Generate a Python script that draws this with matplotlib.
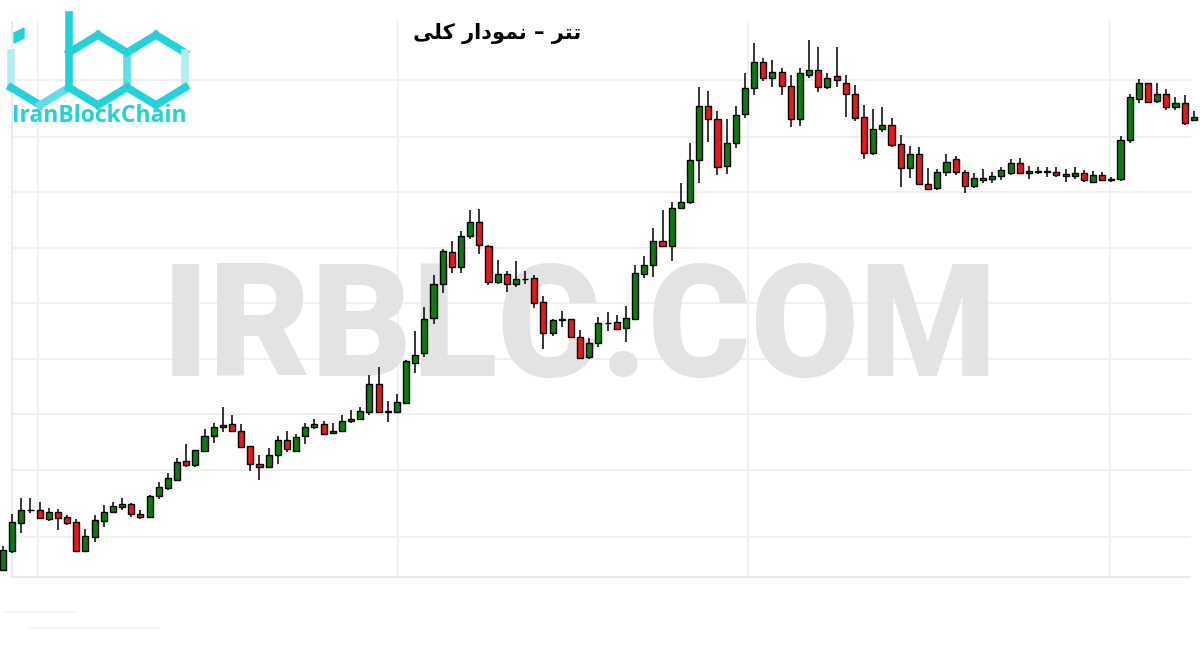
import matplotlib
matplotlib.use("Agg")
import matplotlib.pyplot as plt
from matplotlib.patches import Polygon

# ---------------- data (price units) ----------------
opens = [30, 49.3, 77.3, 89.6, 89.7, 81.3, 87.7, 82.7, 77.7, 49.3,
         63.3, 79.3, 87.7, 93.3, 95.7, 85.7, 83.3, 103.7, 111.7, 119.7,
         138.7, 134.7, 149.3, 163.7, 172.7, 175.7, 168.7, 153.7, 135.7, 132.7,
         145, 159.7, 149.3, 163.7, 172.7, 175.7, 166.7, 168.7, 178.7, 180.7,
         188.3, 215.7, 188.5, 188.3, 197.3, 236.7, 247.3, 281.7, 315.7, 347.7,
         332.7, 363.7, 377.7, 353.7, 317.7, 325.7, 315.7, 321.1, 321.7, 297.7,
         266.7, 280.5, 280.7, 263, 242.7, 256.7, 276.8, 277.7, 271.7, 281.3,
         326.3, 334.7, 358.7, 353.7, 391.7, 397.7, 439.7, 493.7, 480.7, 433.7,
         456.7, 485.7, 511.7, 537.7, 521.7, 527.7, 513.7, 480.7, 524.7, 529.7,
         512.7, 523.7, 516.7, 505.7, 482.7, 446.7, 470.7, 474.7, 455.7, 431.7,
         445.7, 415.7, 411.7, 427.7, 440.7, 427.7, 413.7, 421.7, 420.7, 423.7,
         426.7, 436.7, 426.7, 428.5, 428.5, 427.7, 425.7, 423.7, 426.7, 417.7,
         424.7, 420.5, 420.7, 459.7, 500.7, 516.7, 498.7, 505.7, 492.7, 496.7,
         480.3]
highs = [54, 86, 102, 102, 98, 92, 91, 85, 80.7, 70.7,
         85, 94.7, 98, 101.7, 97, 89.7, 105, 118, 127, 142,
         156, 149.7, 171, 176.7, 193, 184.7, 176, 153.7, 145, 151.7,
         163.7, 168.7, 165.7, 176.7, 180.7, 178.7, 176.7, 184.7, 189.7, 192.7,
         225, 233.3, 199, 206, 240, 269, 293, 324.7, 350.7, 359,
         368.7, 389.7, 390.7, 354.7, 339.7, 328.7, 338.7, 328.7, 324.7, 303.7,
         280.7, 288.7, 280.7, 269.7, 261.7, 282.7, 287.7, 284.7, 293.7, 335,
         343.7, 372, 390, 397.7, 416.7, 456.7, 512.7, 508.7, 488.7, 480.7,
         493.7, 526.7, 556.7, 541.7, 539.7, 531.7, 524.7, 531.7, 559.7, 552.7,
         526.7, 552.7, 524.7, 514.7, 494.7, 490.7, 492.7, 481.7, 464.7, 453.7,
         452.7, 431.7, 430.7, 445.7, 443.7, 429.7, 426.7, 430.7, 427.7, 432.7,
         440.7, 441.7, 433.7, 432.7, 432.7, 432.7, 430.7, 432.7, 429.7, 428.7,
         427.7, 422.7, 463.7, 505.7, 520.7, 517, 516.7, 510.7, 502.7, 504.7,
         488.7]
lows = [29, 47.3, 67.3, 87.3, 81.3, 79.3, 70.3, 75.3, 49.3, 49.3,
        58.3, 73.3, 86.7, 90.3, 82.7, 81.3, 81.7, 101.3, 109.7, 119.7,
        133.3, 132.7, 148.3, 156.7, 167.7, 168, 152.7, 129.3, 120.3, 132.7,
        136, 148.3, 148.3, 155.7, 170.7, 164.7, 165.7, 167.7, 176.7, 179.7,
        185, 188.3, 178.3, 188.3, 196.7, 227.3, 242.7, 276.3, 307.3, 326.7,
        326.7, 360.7, 346.3, 314.7, 315.7, 308.3, 312.7, 315.7, 291.7, 250.7,
        263.7, 272.7, 261.7, 240.7, 240.7, 253.3, 269.3, 270.7, 258.3, 281.3,
        321.7, 323.3, 353.7, 338.7, 390.7, 395.7, 416.7, 457.7, 424.7, 425.7,
        451.7, 481.7, 504.7, 518.7, 512.7, 504.7, 472.7, 473.7, 521.7, 507.7,
        510.7, 512.7, 482.7, 478.7, 440.7, 444.7, 467.7, 452.7, 412.7, 421.7,
        414.7, 409.7, 409.7, 423.7, 424.7, 406.7, 411.7, 416.7, 416.7, 419.7,
        424.7, 425.7, 420.7, 425.7, 422.7, 422.7, 417.7, 420.7, 417.7, 416.7,
        418.7, 417.7, 418.7, 456.7, 496.7, 497.3, 496.7, 489.7, 489.7, 474.7,
        478.7]
closes = [50, 77.7, 90, 90, 81.7, 87.7, 82.3, 76.7, 49.3, 63.7,
          79.7, 87.7, 93.7, 95.7, 85.7, 83.3, 103.7, 112.7, 121.7, 138,
          134.7, 149.7, 164, 172.7, 175, 168.7, 153.3, 135.7, 132.7, 145,
          159.7, 150.7, 163.3, 172.7, 175.7, 165.7, 168.7, 178.7, 180.7, 188.7,
          215.7, 188.3, 188.7, 197.7, 238.7, 244.7, 280.7, 315.7, 348.7, 332.7,
          363.7, 377.7, 354.7, 317.7, 325.7, 316, 320.7, 321.3, 296.7, 266.7,
          279.7, 280.7, 262.7, 241.7, 256.7, 276.7, 277, 271.3, 281.7, 326.7,
          334.7, 358.7, 353.7, 391.7, 397.7, 439.7, 493.7, 480.7, 432.7, 456.7,
          484.7, 511.7, 537.7, 521.7, 527.7, 513.7, 480.7, 526.7, 529.7, 512.7,
          521.7, 519.7, 505.7, 481.7, 446.7, 470.7, 474.7, 454.7, 431.7, 445.7,
          415.7, 410.7, 427.7, 437.7, 427.7, 413.7, 421.7, 419.7, 423.7, 429.7,
          436.7, 426.7, 428.7, 428.7, 428.7, 424.7, 423.7, 426.7, 419.7, 424.7,
          419.7, 420.7, 459.7, 502.7, 516.7, 498.3, 505.7, 492.7, 496.7, 476.7,
          482.7]

title_text = "تتر – نمودار کلی"
logo_text = "IranBlockChain"
watermark_text = "IRBLC.COM"

UP_COLOR = "#0e7a10"
DOWN_COLOR = "#ea161b"
GRID = "#f0f0f0"
CYAN = "#1fd3db"
CYAN_MID = "#5fdfe5"
CYAN_PALE = "#b0eef1"

# ---------------- minimal Persian shaping (presentation forms) ----------------
FORMS = {  # isolated, final, initial, medial
    "ت": ("\uFE95", "\uFE96", "\uFE97", "\uFE98"),
    "ن": ("\uFEE5", "\uFEE6", "\uFEE7", "\uFEE8"),
    "م": ("\uFEE1", "\uFEE2", "\uFEE3", "\uFEE4"),
    "ک": ("\uFB8E", "\uFB8F", "\uFB90", "\uFB91"),
    "ل": ("\uFEDD", "\uFEDE", "\uFEDF", "\uFEE0"),
    "ی": ("\uFBFC", "\uFBFD", "\uFBFE", "\uFBFF"),
    "ر": ("\uFEAD", "\uFEAE", None, None),
    "و": ("\uFEED", "\uFEEE", None, None),
    "د": ("\uFEA9", "\uFEAA", None, None),
    "ا": ("\uFE8D", "\uFE8E", None, None),
}


def shape_persian(s):
    out = []
    for i, ch in enumerate(s):
        if ch not in FORMS:
            out.append(ch)
            continue
        prev = s[i - 1] if i > 0 else ""
        nxt = s[i + 1] if i + 1 < len(s) else ""
        jp = prev in FORMS and FORMS[prev][2] is not None
        jn = nxt in FORMS and FORMS[ch][2] is not None
        iso, fin, ini, med = FORMS[ch]
        if jp and jn:
            g = med
        elif jp:
            g = fin
        elif jn:
            g = ini
        else:
            g = iso
        out.append(g)
    return "".join(reversed(out))


# ---------------- figure ----------------
W_PX, H_PX = 1200, 650
fig = plt.figure(figsize=(12, 6.5), dpi=100)
fig.patch.set_facecolor("white")

# decoration layer in pixel coordinates (y down)
deco = fig.add_axes([0, 0, 1, 1], zorder=0)
deco.set_xlim(0, W_PX)
deco.set_ylim(H_PX, 0)
deco.axis("off")

for gy in [80, 137, 192, 248, 303, 359, 414, 470, 537]:
    deco.plot([12, 1190], [gy, gy], color=GRID, lw=1.4, zorder=1)
for gx in [38, 398, 748, 1110]:
    deco.plot([gx, gx], [22, 577], color=GRID, lw=1.4, zorder=1)
deco.plot([12, 12, 1190], [22, 577, 577], color="#ebebeb", lw=1.4, zorder=1)
deco.plot([5, 75], [612, 612], color="#f2f2f2", lw=1.2)
deco.plot([30, 158], [628, 628], color="#f2f2f2", lw=1.2)

deco.text(580, 333, watermark_text, ha="center", va="center", fontsize=113,
          fontweight=900, family=["Roboto", "DejaVu Sans"], color="#e3e3e3", zorder=2)

# logo
def hexv(cx, cy, R=35.0, W=29.0):
    return {"T": (cx, cy - R), "UR": (cx + W, cy - R / 2), "LR": (cx + W, cy + R / 2),
            "B": (cx, cy + R), "LL": (cx - W, cy + R / 2), "UL": (cx - W, cy - R / 2)}


def seg(p, q, c):
    deco.plot([p[0], q[0]], [p[1], q[1]], color=c, lw=5.5,
              solid_capstyle="projecting", zorder=5)


hi = hexv(40, 70)
hb = hexv(98, 70)
hc = hexv(156, 70)
seg(hi["UL"], hi["LL"], CYAN_PALE)
seg(hi["LL"], hi["B"], CYAN)
seg(hi["B"], hi["LR"], CYAN_MID)
deco.add_patch(Polygon([(14, 33), (24, 28), (24, 38), (14, 43)], closed=True,
                       color=CYAN, zorder=5))
seg((69, 15), hb["LL"], CYAN)
seg(hb["UL"], hb["T"], CYAN)
seg(hb["T"], hb["UR"], CYAN)
seg(hb["UR"], hb["LR"], CYAN_MID)
seg(hb["LR"], hb["B"], CYAN)
seg(hb["B"], hb["LL"], CYAN)
seg(hc["UL"], hc["T"], CYAN)
seg(hc["T"], hc["UR"], CYAN)
seg(hc["UR"], hc["LR"], CYAN_PALE)
seg(hc["LR"], hc["B"], CYAN)
seg(hc["B"], hc["LL"], CYAN)
deco.text(99, 116, logo_text, ha="center", va="center", fontsize=16.5,
          fontweight="bold", family=["Open Sans", "DejaVu Sans"], color=CYAN, zorder=5)

# title
fig.text(497 / W_PX, 1 - 33 / H_PX, shape_persian(title_text), ha="center", va="center",
         fontsize=15, fontweight="bold", family=["DejaVu Sans"], color="black")

# ---------------- candles ----------------
ax = fig.add_axes([0, 0, 1, 1], zorder=3)
ax.patch.set_alpha(0)
ax.axis("off")
n = len(opens)
step_px = 9.16
first_px = 3.0
ax.set_xlim(-first_px / step_px, (W_PX - first_px) / step_px)
ax.set_ylim(-50, 600)

xs = list(range(n))
ax.vlines(xs, lows, highs, color="black", lw=1.1, zorder=3)
bottoms = [min(o, c) for o, c in zip(opens, closes)]
heights = [max(abs(c - o), 0.3) for o, c in zip(opens, closes)]
colors = [UP_COLOR if c >= o else DOWN_COLOR for o, c in zip(opens, closes)]
ax.bar(xs, heights, bottom=bottoms, width=0.66, color=colors, edgecolor="black",
       linewidth=1.0, zorder=4)

fig.savefig("out.png", dpi=100, facecolor="white")
